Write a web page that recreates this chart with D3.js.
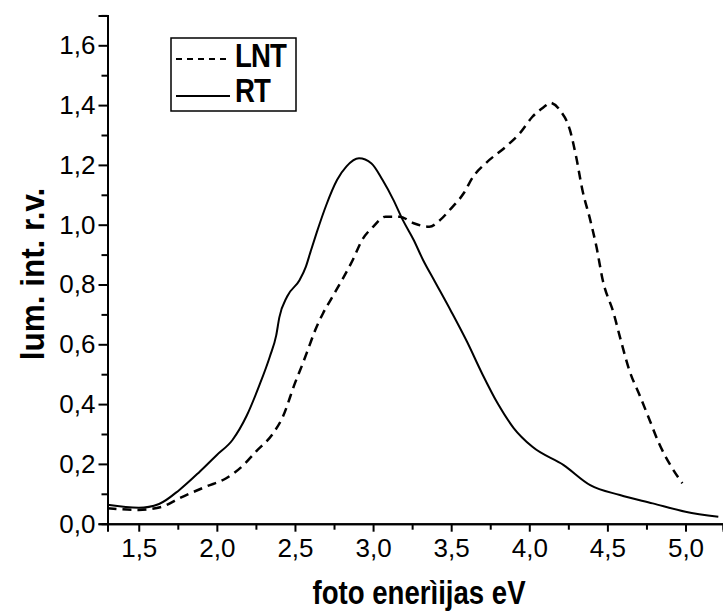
<!DOCTYPE html>
<html>
<head>
<meta charset="utf-8">
<script src="https://cdn.jsdelivr.net/npm/d3@7"></script>
<style>
body { margin: 0; background: #fff; }
text { font-family: "Liberation Sans", Arial, sans-serif; }
</style>
</head>
<body>
<svg></svg>
<script>
// RT curve (solid)
var rtX = [1.3, 1.5, 1.63, 1.76, 1.89, 2.0, 2.1, 2.19, 2.27, 2.34, 2.38, 2.40, 2.45, 2.53, 2.57, 2.60, 2.64, 2.70, 2.77, 2.83, 2.91, 2.99, 3.06, 3.13, 3.19, 3.26, 3.32, 3.39, 3.5, 3.6, 3.7, 3.8, 3.9, 4.02, 4.22, 4.39, 4.58, 4.79, 5.0, 5.21]
var rtY = [0.063, 0.053, 0.066, 0.113, 0.174, 0.23, 0.28, 0.36, 0.46, 0.56, 0.63, 0.69, 0.76, 0.815, 0.86, 0.91, 0.975, 1.065, 1.15, 1.195, 1.222, 1.205, 1.15, 1.083, 1.016, 0.949, 0.882, 0.815, 0.71, 0.61, 0.50, 0.40, 0.32, 0.257, 0.196, 0.129, 0.096, 0.068, 0.040, 0.023]

// LNT curve (dashed)
var lntX = [1.3, 1.5, 1.65, 1.76, 1.93, 2.06, 2.17, 2.25, 2.36, 2.42, 2.50, 2.55, 2.59, 2.63, 2.68, 2.74, 2.81, 2.87, 2.93, 3.0, 3.08, 3.17, 3.26, 3.36, 3.43, 3.49, 3.58, 3.64, 3.72, 3.85, 3.94, 4.02, 4.11, 4.13, 4.2, 4.26, 4.30, 4.34, 4.39, 4.43, 4.47, 4.54, 4.58, 4.64, 4.71, 4.77, 4.83, 4.91, 4.98]
var lntY = [0.052, 0.046, 0.057, 0.085, 0.124, 0.152, 0.196, 0.241, 0.302, 0.355, 0.47, 0.536, 0.592, 0.648, 0.704, 0.759, 0.823, 0.882, 0.949, 0.993, 1.027, 1.027, 1.005, 0.993, 1.016, 1.049, 1.105, 1.16, 1.205, 1.261, 1.306, 1.361, 1.40, 1.408, 1.38, 1.317, 1.227, 1.116, 1.016, 0.926, 0.815, 0.704, 0.625, 0.514, 0.425, 0.347, 0.269, 0.19, 0.135]

var xTicks = [1.5, 2.0, 2.5, 3.0, 3.5, 4.0, 4.5, 5.0]
var xMinor = [1.75, 2.25, 2.75, 3.25, 3.75, 4.25, 4.75]
var yTicks = [0, 0.2, 0.4, 0.6, 0.8, 1.0, 1.2, 1.4, 1.6]
var yMinor = [0.1, 0.3, 0.5, 0.7, 0.9, 1.1, 1.3, 1.5, 1.7]

var seriesNames = ["LNT", "RT"]

var screen = {width: 723, height: 614}
var comma = function(d) { return d3.format(".1f")(d).replace(".", ",") }

var svg = d3.select("svg")
    .attr("width", screen.width)
    .attr("height", screen.height)

var xScale = d3.scaleLinear().domain([1.3, 5.24]).range([107.5, 723])
var yScale = d3.scaleLinear().domain([0, 1.7]).range([523.7, 15.4])

// x axis
svg.append("g")
    .attr("transform", "translate(0," + yScale(0) + ")")
    .call(d3.axisBottom(xScale).tickValues(xMinor).tickSize(6).tickFormat(""))
svg.append("g")
    .attr("class", "xaxis")
    .attr("transform", "translate(0," + yScale(0) + ")")
    .call(d3.axisBottom(xScale).tickValues(xTicks).tickSize(8).tickPadding(7).tickFormat(comma))

// y axis
svg.append("g")
    .attr("transform", "translate(" + xScale(1.3) + ",0)")
    .call(d3.axisLeft(yScale).tickValues(yMinor).tickSize(6).tickFormat(""))
svg.append("g")
    .attr("class", "yaxis")
    .attr("transform", "translate(" + xScale(1.3) + ",0)")
    .call(d3.axisLeft(yScale).tickValues(yTicks).tickSize(9).tickPadding(3).tickFormat(comma))

svg.selectAll(".domain").attr("stroke", "#000").attr("stroke-width", 2)
svg.selectAll(".tick line").attr("stroke", "#000").attr("stroke-width", 2)
svg.selectAll(".tick text")
    .attr("fill", "#000")
    .style("font-size", "26px")
    .style("font-family", "'Liberation Sans', Arial, sans-serif")

var line = d3.line()
    .x(function(d) { return xScale(d.x) })
    .y(function(d) { return yScale(d.y) })
    .curve(d3.curveMonotoneX)

var rt = rtX.map(function(x, i) { return {x: x, y: rtY[i]} })
var lnt = lntX.map(function(x, i) { return {x: x, y: lntY[i]} })

svg.append("path")
    .datum(rt)
    .attr("d", line)
    .attr("fill", "none")
    .attr("stroke", "#000")
    .attr("stroke-width", 2)

svg.append("path")
    .datum(lnt)
    .attr("d", line)
    .attr("fill", "none")
    .attr("stroke", "#000")
    .attr("stroke-width", 2.5)
    .attr("stroke-dasharray", "9,6")

// axis titles (the original lettering is a little condensed)
svg.append("text")
    .attr("transform", "translate(419,604) scale(0.92,1.1)")
    .attr("text-anchor", "middle")
    .style("font-size", "30px")
    .style("font-weight", "bold")
    .text("foto enerìijas eV")

svg.append("text")
    .attr("transform", "translate(44,274) rotate(-90) scale(1.05,1.12)")
    .attr("text-anchor", "middle")
    .style("font-size", "30px")
    .style("font-weight", "bold")
    .text("lum. int. r.v.")

// legend
var legend = svg.append("g")
legend.append("rect")
    .attr("x", 171).attr("y", 38)
    .attr("width", 125).attr("height", 73)
    .attr("fill", "#fff").attr("stroke", "#000").attr("stroke-width", 1.5)

legend.selectAll("line")
    .data(seriesNames)
    .enter()
    .append("line")
    .attr("x1", 176).attr("x2", 230)
    .attr("y1", function(d, i) { return 59 + i * 37 })
    .attr("y2", function(d, i) { return 59 + i * 37 })
    .attr("stroke", "#000")
    .attr("stroke-width", 2)
    .attr("stroke-dasharray", function(d, i) { return i == 0 ? "6,5" : null })

legend.selectAll("text")
    .data(seriesNames)
    .enter()
    .append("text")
    .attr("transform", function(d, i) { return "translate(235," + (67 + i * 35) + ") scale(0.92,1.12)" })
    .style("font-size", "30px")
    .style("font-weight", "bold")
    .style("letter-spacing", "-1px")
    .text(function(d) { return d })
</script>
</body>
</html>
